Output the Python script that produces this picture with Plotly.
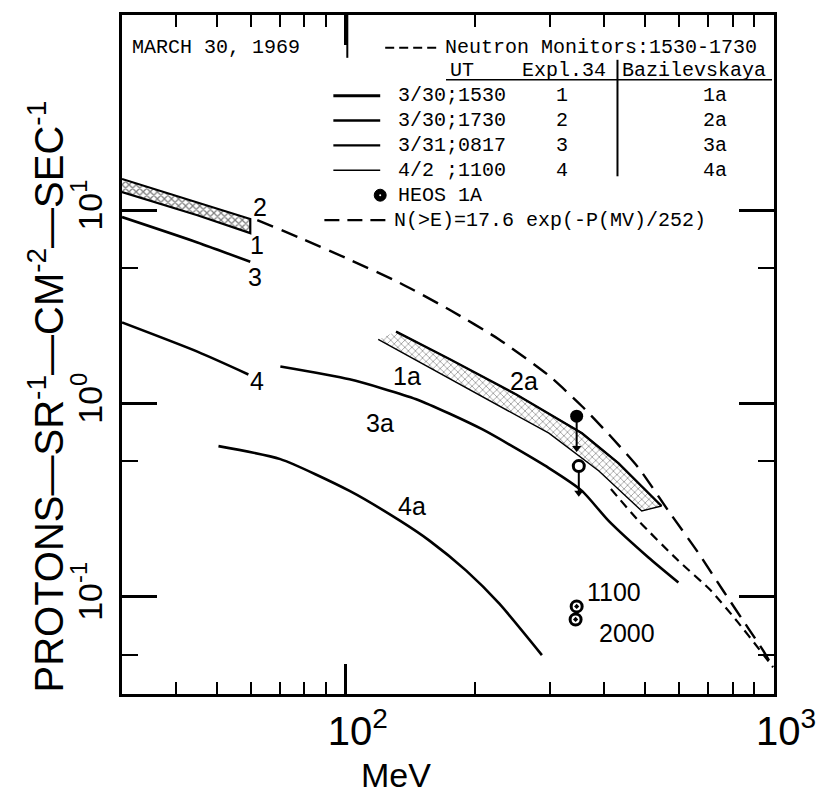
import math
import plotly.graph_objects as go

# ---------------- data ----------------
# hatched band between curves 1 and 2 (Explorer 34)
band2_x = [30.0, 45.0, 59.8]
band2_hi = [14.5, 11.0, 9.0]
band2_lo = [12.4, 9.4, 7.6]

# curve 3 and curve 4 (Explorer 34)
c3_x = [30.0, 45.0, 59.8]
c3_y = [9.2, 6.8, 5.4]
c4_x = [30.0, 45.0, 59.2]
c4_y = [2.62, 1.85, 1.41]

# Bazilevskaya curves
c3a_x = [70.3, 102, 146, 208, 298, 356, 411, 509, 598]
c3a_y = [1.55, 1.33, 1.05, 0.734, 0.462, 0.352, 0.246, 0.159, 0.118]
c4a_x = [50.4, 70.3, 102, 134, 157, 191, 228, 287]
c4a_y = [0.60, 0.514, 0.352, 0.246, 0.194, 0.136, 0.092, 0.0497]

# hatched band between 1a and 2a
band1a_hi_x = [131, 175, 250, 356, 433, 546]
band1a_hi_y = [2.35, 1.69, 1.11, 0.70, 0.49, 0.294]
band1a_lo_x = [119, 157, 208, 298, 390, 491]
band1a_lo_y = [2.14, 1.53, 1.087, 0.70, 0.446, 0.277]

# N(>E)=17.6 exp(-P/252) long-dash curve
nge_x = [62.1, 78.2, 102.2, 133.6, 174.6, 228, 298, 356, 411, 483, 567, 665, 761, 871, 942, 995]
nge_y = [8.88, 7.17, 5.53, 4.20, 3.05, 2.14, 1.39, 0.965, 0.692, 0.462, 0.277, 0.1686, 0.107, 0.0684, 0.0527, 0.043]

# Neutron monitors short-dash curve
nm_x = [416, 483, 598, 713, 824, 927, 995]
nm_y = [0.36, 0.246, 0.153, 0.107, 0.0734, 0.0527, 0.043]

# HEOS 1A points
heos_x = [346, 350]
heos_y = [0.857, 0.473]
heos_low = [0.586, 0.344]
heos2_x = [346, 344]
heos2_y = [0.0888, 0.076]

# curve labels
lab_text = ["2", "1", "3", "4", "1a", "2a", "3a", "4a", "1100", "2000"]
lab_x = [63.1, 62.1, 61.4, 62.1, 139, 261, 120, 143, 422, 453]
lab_y = [10.4, 6.6, 4.5, 1.30, 1.38, 1.30, 0.789, 0.294, 0.105, 0.0645]

# legend table
leg_dates = ["3/30;1530", "3/30;1730", "3/31;0817", "4/2 ;1100"]
leg_expl = ["1", "2", "3", "4"]
leg_baz = ["1a", "2a", "3a", "4a"]

x_tickvals = [100, 1000]
x_ticktext = ["10<sup>2</sup>", "10<sup>3</sup>"]
x_minor = [40, 50, 60, 70, 80, 90, 200, 300, 400, 500, 600, 700, 800, 900]
y_tickvals = [0.1, 1, 10]
y_ticktext = ["10<sup>-1</sup>", "10<sup>0</sup>", "10<sup>1</sup>"]
y_minor = [0.05, 0.5, 5]

# ---------------- figure ----------------
W, H = 828, 795
L, R, T, B = 122, 52, 12, 101
PW, PH = W - L - R, H - T - B

def fx(px):
    return (px - L) / PW

def fy(py):
    return (H - B - py) / PH

BLK = "black"
fig = go.Figure()

# band 2
fig.add_trace(go.Scatter(
    x=band2_x + band2_x[::-1], y=band2_hi + band2_lo[::-1],
    mode="lines", fill="toself", fillcolor="white",
    fillpattern=dict(shape="x", fgcolor=BLK, bgcolor="white", size=5, solidity=0.45),
    line=dict(color=BLK, width=2.2), hoverinfo="skip"))

# band 1a-2a
fig.add_trace(go.Scatter(
    x=band1a_hi_x + band1a_lo_x[::-1], y=band1a_hi_y + band1a_lo_y[::-1],
    mode="lines", fill="toself", fillcolor="white",
    fillpattern=dict(shape="x", fgcolor="#333", bgcolor="white", size=5, solidity=0.3),
    line=dict(color=BLK, width=1.4), hoverinfo="skip"))
fig.add_trace(go.Scatter(x=band1a_hi_x, y=band1a_hi_y, mode="lines",
                         line=dict(color=BLK, width=2.4), hoverinfo="skip"))

for xs, ys in [(c3_x, c3_y), (c4_x, c4_y), (c3a_x, c3a_y), (c4a_x, c4a_y)]:
    fig.add_trace(go.Scatter(x=xs, y=ys, mode="lines",
                             line=dict(color=BLK, width=2.6, shape="spline", smoothing=0.6),
                             hoverinfo="skip"))

fig.add_trace(go.Scatter(x=nge_x, y=nge_y, mode="lines",
                         line=dict(color=BLK, width=2.4, dash="17px,9px", shape="spline", smoothing=0.6),
                         hoverinfo="skip"))
fig.add_trace(go.Scatter(x=nm_x, y=nm_y, mode="lines",
                         line=dict(color=BLK, width=2.2, dash="9px,6px", shape="spline", smoothing=0.6),
                         hoverinfo="skip"))

# HEOS error lines
for xv, y0, y1 in zip(heos_x, heos_y, heos_low):
    fig.add_trace(go.Scatter(x=[xv, xv], y=[y0, y1], mode="lines",
                             line=dict(color=BLK, width=2), hoverinfo="skip"))
fig.add_trace(go.Scatter(x=heos_x, y=heos_low, mode="markers",
                         marker=dict(symbol="triangle-down", size=8, color=BLK), hoverinfo="skip"))
fig.add_trace(go.Scatter(x=heos_x[:1], y=heos_y[:1], mode="markers",
                         marker=dict(symbol="circle", size=13, color=BLK), hoverinfo="skip"))
fig.add_trace(go.Scatter(x=heos_x[1:], y=heos_y[1:], mode="markers",
                         marker=dict(symbol="circle", size=11, color="white", line=dict(color=BLK, width=3)),
                         hoverinfo="skip"))
fig.add_trace(go.Scatter(x=heos2_x, y=heos2_y, mode="markers",
                         marker=dict(symbol="circle-dot", size=11, color="white", line=dict(color=BLK, width=3)),
                         hoverinfo="skip"))

annotations = []
for t, xv, yv in zip(lab_text, lab_x, lab_y):
    annotations.append(dict(x=math.log10(xv), y=math.log10(yv), xref="x", yref="y",
                            text=t, showarrow=False, xanchor="center", yanchor="middle",
                            font=dict(family="Liberation Sans", size=25, color=BLK)))

# axis titles
annotations.append(dict(x=fx(46), y=fy(395), xref="paper", yref="paper",
                        xanchor="center", yanchor="middle",
                        text="PROTONS\u2014SR<sup>-1</sup>\u2014CM<sup>-2</sup>\u2014SEC<sup>-1</sup>",
                        textangle=-90, showarrow=False,
                        font=dict(family="Liberation Sans", size=40, color=BLK)))
annotations.append(dict(x=fx(397), y=fy(775), xref="paper", yref="paper", text="MeV",
                        xanchor="center", yanchor="middle",
                        showarrow=False, font=dict(family="Liberation Sans", size=34, color=BLK)))

# legend table
LF = dict(family="Liberation Mono", size=20, color=BLK)
def txt(px, py, s, anchor="left"):
    annotations.append(dict(x=fx(px), y=fy(py), xref="paper", yref="paper", text=s,
                            showarrow=False, xanchor=anchor, yanchor="middle", font=LF))

txt(130, 45, "MARCH 30, 1969")
txt(444, 45, "Neutron Monitors:1530-1730")
txt(449, 68, "UT")
txt(521, 68, "Expl.34")
txt(622, 68, "Bazilevskaya")
row_y = [93, 118, 143, 168]
for d, e, b, yy in zip(leg_dates, leg_expl, leg_baz, row_y):
    txt(397, yy, d)
    txt(563, yy, e, "center")
    txt(717, yy, b, "center")
txt(397, 193, "HEOS 1A")
txt(393, 218, "N(&gt;E)=17.6 exp(-P(MV)/252)")

shapes = []
def seg(x0, y0, x1, y1, w=2, dash="solid"):
    shapes.append(dict(type="line", xref="paper", yref="paper", x0=fx(x0), y0=fy(y0),
                       x1=fx(x1), y1=fy(y1), line=dict(color=BLK, width=w, dash=dash)))

seg(348, 12, 348, 55, 2)
seg(386, 45, 442, 45, 2, "9px,5px")
seg(447, 77, 774, 77, 1.5)
seg(619, 57, 619, 174, 2)
for w, yy in zip([3, 2.6, 2.2, 1.6], row_y):
    seg(334, yy, 381, yy, w)
seg(325, 218, 390, 218, 2.4, "15px,8px")
shapes.append(dict(type="circle", xref="paper", yref="paper",
                   x0=fx(375), x1=fx(387), y0=fy(187), y1=fy(199),
                   fillcolor=BLK, line=dict(color=BLK, width=1)))
shapes.append(dict(type="circle", xref="paper", yref="paper",
                   x0=fx(380), x1=fx(382), y0=fy(192), y1=fy(194),
                   fillcolor="white", line=dict(color="white", width=0)))

fig.update_layout(
    width=W, height=H, margin=dict(l=L, r=R, t=T, b=B),
    paper_bgcolor="white", plot_bgcolor="white", showlegend=False,
    annotations=annotations, shapes=shapes,
    xaxis=dict(type="log", range=[1.4771, 3.0], showgrid=False, zeroline=False,
               showline=True, linecolor=BLK, linewidth=2.5, mirror="ticks",
               ticks="inside", ticklen=30, tickwidth=2.5, tickcolor=BLK,
               tickmode="array", tickvals=x_tickvals, ticktext=x_ticktext,
               tickfont=dict(family="Liberation Sans", size=40, color=BLK),
               ticklabelshift=12, ticklabelstandoff=0,
               minor=dict(tickmode="array", tickvals=x_minor, ticks="inside",
                          ticklen=12, tickwidth=2.2, tickcolor=BLK, showgrid=False)),
    yaxis=dict(type="log", range=[-1.505, 2.01], showgrid=False, zeroline=False,
               showline=True, linecolor=BLK, linewidth=2.5, mirror="ticks",
               ticks="inside", ticklen=35, tickwidth=2.5, tickcolor=BLK,
               tickmode="array", tickvals=y_tickvals, ticktext=y_ticktext,
               tickangle=-90,
               tickfont=dict(family="Liberation Sans", size=34, color=BLK),
               ticklabelstandoff=4,
               minor=dict(tickmode="array", tickvals=y_minor, ticks="inside",
                          ticklen=16, tickwidth=2.2, tickcolor=BLK, showgrid=False)),
)

fig.write_html("out.html", config={"displayModeBar": False},
               post_script="document.body.style.margin='0px';")
